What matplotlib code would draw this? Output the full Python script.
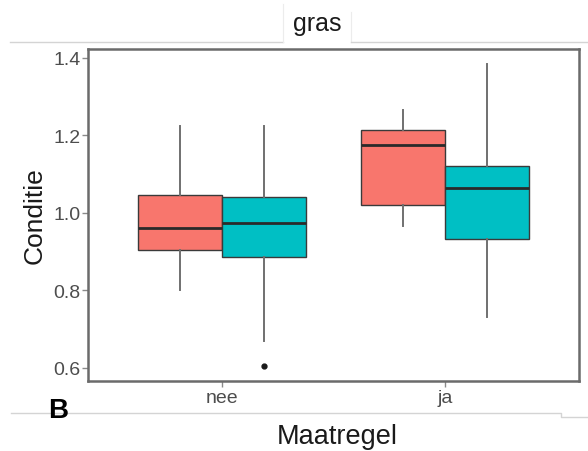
import matplotlib
matplotlib.use("Agg")
import matplotlib.pyplot as plt
from matplotlib.lines import Line2D

plt.rcParams['font.family'] = ['Liberation Sans', 'DejaVu Sans']

# Data: condition per measure (Maatregel), two groups per category
categories = ["nee", "ja"]
group_colors = ["#F8766D", "#00BFC4"]

whislo = [[0.80, 0.67], [0.965, 0.73]]
q1 = [[0.905, 0.885], [1.02, 0.932]]
med = [[0.96, 0.975], [1.175, 1.065]]
q3 = [[1.045, 1.04], [1.215, 1.122]]
whishi = [[1.225, 1.225], [1.265, 1.385]]
fliers = [[[], [0.605]], [[], []]]

y_ticks = [0.6, 0.8, 1.0, 1.2, 1.4]
y_tick_labels = ["0.6", "0.8", "1.0", "1.2", "1.4"]

W, H = 588, 452
fig = plt.figure(figsize=(W / 100, H / 100), dpi=100)
ax = fig.add_axes([88 / W, 1 - 382 / H, (579 - 88) / W, (382 - 50) / H])

dodge = 0.375
for i, cat in enumerate(categories):
    for j, col in enumerate(group_colors):
        pos = i + 1 + (j - 0.5) * dodge
        stats = [dict(whislo=whislo[i][j], q1=q1[i][j], med=med[i][j],
                      q3=q3[i][j], whishi=whishi[i][j], fliers=fliers[i][j])]
        ax.bxp(stats, positions=[pos], widths=dodge, patch_artist=True,
               showcaps=False, manage_ticks=False,
               boxprops=dict(facecolor=col, edgecolor="#3a3a3a", linewidth=1.0),
               medianprops=dict(color="#2a2a2a", linewidth=2.0),
               whiskerprops=dict(color="#707070", linewidth=1.4),
               flierprops=dict(marker="o", markersize=3.5,
                               markerfacecolor="#1a1a1a",
                               markeredgecolor="#1a1a1a"))

ax.set_xlim(0.4, 2.6)
ax.set_ylim(0.566, 1.423)
ax.set_xticks([1, 2])
ax.set_xticklabels(categories)
ax.set_yticks(y_ticks)
ax.set_yticklabels(y_tick_labels)

for s in ax.spines.values():
    s.set_color("#6b6b6b")
    s.set_linewidth(1.8)
ax.tick_params(axis="both", colors="#8a8a8a", length=4, width=1,
               labelsize=14, labelcolor="#4d4d4d", pad=1.5)

ax.set_ylabel("Conditie", fontsize=19, color="#1a1a1a", labelpad=5)
fig.text(337 / W, 1 - 437 / H, "Maatregel", fontsize=19.5, color="#1a1a1a",
         ha="center", va="center")
fig.text(317 / W, 1 - 24 / H, "gras", fontsize=18, color="#1a1a1a",
         ha="center", va="center")
fig.text(58 / W, 1 - 411 / H, "B", fontsize=20, fontweight="bold",
         color="black", ha="center", va="center")

# strip frame and separators
def fline(xs, ys, **kw):
    fig.add_artist(Line2D([x / W for x in xs], [1 - y / H for y in ys],
                          transform=fig.transFigure, **kw))

light = dict(color="#d4d4d4", linewidth=1.0)
fline([10, 283], [43, 43], **light)
fline([283, 283], [5, 43], color="#ececec", linewidth=0.8)
fline([351, 351], [13, 43], color="#ececec", linewidth=0.8)
fline([351, 588], [43, 43], **light)
fline([11, 561, 561, 588], [414, 414, 418, 418], **light)

fig.savefig("out.png", dpi=100)
